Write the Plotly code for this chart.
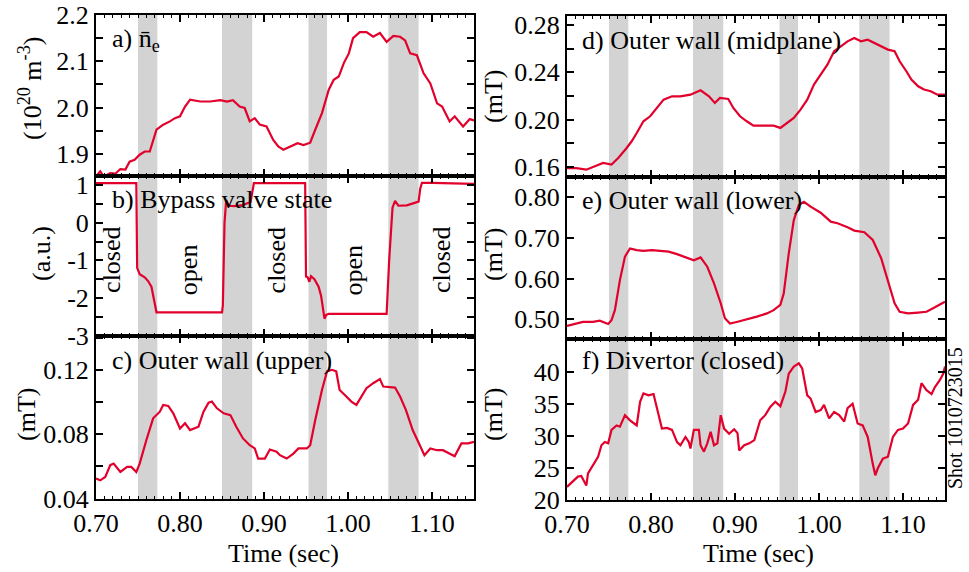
import plotly.graph_objects as go

# ---------------- data ----------------
shade_start = [0.750, 0.850, 0.953, 1.048]
shade_end = [0.773, 0.886, 0.975, 1.084]

t_a = [0.700, 0.705, 0.709, 0.717, 0.723, 0.729, 0.735, 0.740, 0.746, 0.752, 0.758, 0.764,
       0.772, 0.780, 0.788, 0.794, 0.800, 0.806, 0.812, 0.824, 0.836, 0.848, 0.856, 0.863,
       0.871, 0.877, 0.883, 0.889, 0.895, 0.903, 0.911, 0.917, 0.923, 0.931, 0.940, 0.947,
       0.955, 0.961, 0.969, 0.977, 0.983, 0.989, 0.995, 1.001, 1.006, 1.014, 1.022, 1.030,
       1.038, 1.046, 1.054, 1.062, 1.068, 1.074, 1.082, 1.090, 1.098, 1.106, 1.112, 1.121,
       1.127, 1.137, 1.145, 1.150]
ne = [1.851, 1.862, 1.851, 1.858, 1.857, 1.867, 1.866, 1.883, 1.887, 1.898, 1.905, 1.905,
      1.952, 1.963, 1.970, 1.977, 1.981, 2.002, 2.017, 2.013, 2.013, 2.016, 2.013, 2.016,
      2.002, 1.999, 1.970, 1.977, 1.963, 1.959, 1.930, 1.916, 1.909, 1.916, 1.923, 1.919,
      1.924, 1.952, 1.988, 2.038, 2.060, 2.067, 2.096, 2.117, 2.150, 2.163, 2.163, 2.153,
      2.161, 2.142, 2.155, 2.153, 2.145, 2.117, 2.113, 2.074, 2.052, 2.009, 2.002, 1.970,
      1.981, 1.959, 1.975, 1.972]

t_b = [0.700, 0.748, 0.749, 0.752, 0.758, 0.762, 0.766, 0.769, 0.772, 0.800, 0.830, 0.850,
       0.851, 0.853, 0.855, 0.858, 0.865, 0.875, 0.884, 0.886, 0.888, 0.900, 0.930, 0.949,
       0.950, 0.952, 0.954, 0.956, 0.960, 0.965, 0.968, 0.970, 0.972, 0.974, 0.977, 1.000,
       1.030, 1.046, 1.049, 1.053, 1.056, 1.060, 1.070, 1.080, 1.084, 1.086, 1.088, 1.100,
       1.130, 1.150]
valve = [1.05, 1.05, -1.20, -1.37, -1.45, -1.55, -1.70, -2.10, -2.38, -2.38, -2.38, -2.38,
         -2.20, 0.00, 0.60, 0.45, 0.44, 0.47, 0.55, 0.80, 1.05, 1.05, 1.05, 1.05,
         -1.43, -1.45, -1.57, -1.42, -1.50, -1.70, -1.95, -2.30, -2.55, -2.45, -2.42, -2.42,
         -2.42, -2.42, -1.00, 0.40, 0.58, 0.45, 0.46, 0.52, 0.56, 0.90, 1.06, 1.06,
         1.05, 1.03]

t_c = [0.700, 0.705, 0.711, 0.717, 0.721, 0.729, 0.737, 0.742, 0.748, 0.752, 0.760, 0.768,
       0.776, 0.780, 0.786, 0.792, 0.800, 0.806, 0.812, 0.822, 0.828, 0.834, 0.838, 0.844,
       0.852, 0.860, 0.867, 0.875, 0.883, 0.889, 0.893, 0.901, 0.907, 0.915, 0.919, 0.927,
       0.935, 0.941, 0.951, 0.955, 0.961, 0.969, 0.975, 0.981, 0.986, 0.990, 0.998, 1.004,
       1.010, 1.016, 1.022, 1.030, 1.038, 1.042, 1.050, 1.056, 1.062, 1.069, 1.077, 1.085,
       1.091, 1.098, 1.106, 1.113, 1.121, 1.127, 1.135, 1.143, 1.150]
b_upper = [0.0525, 0.0514, 0.0535, 0.0608, 0.0618, 0.0566, 0.0597, 0.0597, 0.0566, 0.0618,
           0.0764, 0.0899, 0.0940, 0.0982, 0.0976, 0.0930, 0.0836, 0.0868, 0.0826, 0.0847,
           0.0940, 0.0996, 0.1003, 0.0961, 0.0930, 0.0919, 0.0847, 0.0774, 0.0732, 0.0712,
           0.0649, 0.0649, 0.0705, 0.0691, 0.0670, 0.0649, 0.0680, 0.0712, 0.0712, 0.0732,
           0.0888, 0.1075, 0.1190, 0.1200, 0.1190, 0.1075, 0.1034, 0.1003, 0.0982, 0.1034,
           0.1086, 0.1117, 0.1142, 0.1096, 0.1092, 0.1090, 0.1034, 0.0950, 0.0826, 0.0732,
           0.0670, 0.0712, 0.0701, 0.0701, 0.0680, 0.0664, 0.0743, 0.0743, 0.0753]

t_d = [0.700, 0.711, 0.723, 0.733, 0.743, 0.753, 0.761, 0.771, 0.777, 0.783, 0.791, 0.799,
       0.807, 0.815, 0.825, 0.835, 0.847, 0.859, 0.869, 0.876, 0.882, 0.892, 0.898, 0.906,
       0.914, 0.922, 0.934, 0.946, 0.954, 0.962, 0.970, 0.978, 0.986, 0.994, 1.002, 1.010,
       1.018, 1.026, 1.034, 1.042, 1.050, 1.058, 1.066, 1.074, 1.082, 1.090, 1.096, 1.104,
       1.110, 1.118, 1.125, 1.133, 1.141, 1.150]
b_mid = [0.1590, 0.1590, 0.1577, 0.1606, 0.1634, 0.1620, 0.1676, 0.1760, 0.1817, 0.1887,
         0.1986, 0.2028, 0.2099, 0.2169, 0.2197, 0.2197, 0.2211, 0.2248, 0.2197, 0.2141,
         0.2183, 0.2175, 0.2099, 0.2028, 0.1986, 0.1949, 0.1949, 0.1949, 0.1930, 0.1972,
         0.2014, 0.2085, 0.2169, 0.2296, 0.2380, 0.2465, 0.2578, 0.2620, 0.2662, 0.2690,
         0.2662, 0.2676, 0.2648, 0.2620, 0.2592, 0.2578, 0.2493, 0.2409, 0.2338, 0.2282,
         0.2254, 0.2240, 0.2211, 0.2211]

t_e = [0.700, 0.711, 0.719, 0.731, 0.739, 0.749, 0.753, 0.757, 0.763, 0.769, 0.775, 0.783,
       0.791, 0.801, 0.811, 0.821, 0.831, 0.843, 0.851, 0.859, 0.867, 0.875, 0.883, 0.888,
       0.894, 0.902, 0.914, 0.926, 0.938, 0.946, 0.954, 0.958, 0.964, 0.970, 0.976, 0.982,
       0.990, 1.002, 1.014, 1.022, 1.034, 1.042, 1.054, 1.064, 1.074, 1.082, 1.090, 1.096,
       1.106, 1.118, 1.128, 1.138, 1.150]
b_lower = [0.483, 0.489, 0.493, 0.493, 0.496, 0.488, 0.4975, 0.522, 0.596, 0.654, 0.674, 0.670,
           0.668, 0.670, 0.668, 0.666, 0.660, 0.650, 0.645, 0.652, 0.629, 0.588, 0.539, 0.502,
           0.489, 0.493, 0.499, 0.506, 0.514, 0.522, 0.535, 0.563, 0.662, 0.744, 0.781, 0.789,
           0.777, 0.762, 0.740, 0.736, 0.726, 0.718, 0.714, 0.695, 0.650, 0.596, 0.539, 0.518,
           0.514, 0.516, 0.518, 0.529, 0.543]

t_f = [0.700, 0.707, 0.713, 0.717, 0.721, 0.723, 0.725, 0.731, 0.737, 0.741, 0.745, 0.749,
       0.753, 0.759, 0.763, 0.769, 0.775, 0.783, 0.787, 0.791, 0.797, 0.803, 0.807, 0.813,
       0.819, 0.825, 0.831, 0.835, 0.841, 0.845, 0.847, 0.851, 0.857, 0.859, 0.863, 0.867,
       0.871, 0.875, 0.879, 0.883, 0.887, 0.893, 0.899, 0.903, 0.905, 0.911, 0.917, 0.923,
       0.930, 0.936, 0.942, 0.948, 0.954, 0.960, 0.964, 0.970, 0.976, 0.980, 0.986, 0.990,
       0.996, 1.002, 1.006, 1.012, 1.018, 1.024, 1.030, 1.034, 1.040, 1.046, 1.052, 1.058,
       1.064, 1.067, 1.070, 1.076, 1.082, 1.088, 1.094, 1.100, 1.106, 1.112, 1.118, 1.122,
       1.128, 1.134, 1.138, 1.144, 1.148, 1.150]
b_div = [22.0, 22.8, 23.6, 23.7, 22.8, 22.2, 24.1, 25.4, 26.7, 28.5, 29.0, 28.8,
         30.9, 31.6, 31.4, 33.2, 32.4, 31.6, 35.3, 36.6, 36.3, 36.5, 34.5, 31.1,
         31.2, 30.9, 29.0, 28.5, 29.8, 29.0, 28.0, 30.9, 30.9, 28.5, 27.5, 28.8,
         30.6, 28.5, 28.8, 33.2, 31.1, 30.3, 31.0, 30.4, 27.7, 28.5, 28.8, 29.3,
         32.4, 33.2, 34.5, 35.3, 34.6, 36.9, 39.7, 40.8, 41.3, 40.5, 36.3, 35.8,
         33.7, 34.0, 34.8, 32.7, 33.7, 33.2, 32.2, 34.3, 35.0, 31.9, 31.6, 29.8,
         25.6, 23.8, 24.9, 26.4, 26.7, 29.8, 30.9, 31.1, 31.9, 34.8, 35.6, 38.2,
         37.1, 36.5, 37.6, 38.7, 39.7, 40.8]

panel_labels = ["a) n\u0304<sub>e</sub>", "b) Bypass valve state", "c) Outer wall (upper)",
                "d) Outer wall (midplane)", "e) Outer wall (lower)", "f) Divertor (closed)"]
y_titles = ["(10<sup>20</sup> m<sup>-3</sup>)", "(a.u.)", "(mT)", "(mT)", "(mT)", "(mT)"]
valve_states = ["closed", "open", "closed", "open", "closed"]
valve_state_t = [0.719, 0.810, 0.916, 1.007, 1.112]
valve_state_y = [-0.99, -1.25, -0.99, -1.25, -0.99]
x_ticks = [0.70, 0.80, 0.90, 1.00, 1.10]
x_ticktext = ["0.70", "0.80", "0.90", "1.00", "1.10"]
y_tickvals = [[1.9, 2.0, 2.1, 2.2], [-3, -2, -1, 0, 1], [0.04, 0.08, 0.12],
              [0.16, 0.20, 0.24, 0.28], [0.50, 0.60, 0.70, 0.80], [20, 25, 30, 35, 40]]
y_ticktext = [["1.9", "2.0", "2.1", "2.2"], ["-3", "-2", "-1", "0", "1"],
              ["0.04", "0.08", "0.12"], ["0.16", "0.20", "0.24", "0.28"],
              ["0.50", "0.60", "0.70", "0.80"], ["20", "25", "30", "35", "40"]]

# ---------------- figure ----------------
W, H = 969, 572
RED = "#e2002c"
FONT = "Liberation Serif"
fig = go.Figure()


def sfx(n):
    return "" if n == 1 else str(n)


series = [(t_a, ne), (t_b, valve), (t_c, b_upper), (t_d, b_mid), (t_e, b_lower), (t_f, b_div)]
for i, (tx, vy) in enumerate(series):
    n = i + 1
    fig.add_trace(go.Scatter(x=tx, y=vy, mode="lines", line=dict(color=RED, width=2.2),
                             xaxis=f"x{sfx(n)}", yaxis=f"y{sfx(n)}", showlegend=False,
                             hoverinfo="skip"))


def px_x(a, b):
    return [a / W, b / W]


def px_y(top, bottom):
    return [1 - bottom / H, 1 - top / H]


x_dom = [px_x(96, 474)] * 3 + [px_x(567, 945)] * 3
y_dom = [px_y(15, 176), px_y(176, 336), px_y(336, 499),
         px_y(16, 177), px_y(177, 339), px_y(339, 500)]

y_ranges = [[1.852, 2.2], [-3.01, 1.24], [0.0398, 0.141],
            [0.1515, 0.2876], [0.451, 0.85], [19.95, 45.1]]
y_minor = [0.05, 0.5, 0.02, 0.02, None, None]

axis_common = dict(showline=True, linecolor="black", linewidth=2, mirror="allticks",
                   ticks="inside", tickcolor="black", tickwidth=1.5, showgrid=False,
                   zeroline=False, automargin=False,
                   tickfont=dict(family=FONT, size=26, color="black"))

layout_axes = {}
for i in range(6):
    n = i + 1
    xa = dict(axis_common)
    xa.update(domain=x_dom[i], range=[0.70, 1.15], anchor=f"y{sfx(n)}",
              tickvals=x_ticks, ticktext=x_ticktext, ticklen=7,
              showticklabels=(i in (2, 5)),
              minor=dict(dtick=0.01, ticklen=3, tickwidth=1, tickcolor="black",
                         ticks="inside", tick0=0.7))
    ya = dict(axis_common)
    ya.update(domain=y_dom[i], range=y_ranges[i], anchor=f"x{sfx(n)}", ticklen=7,
              tickvals=y_tickvals[i], ticktext=y_ticktext[i])
    if y_minor[i] is not None:
        ya.update(minor=dict(dtick=y_minor[i], ticklen=7, tickwidth=1.5,
                             tickcolor="black", ticks="inside"))
    layout_axes[f"xaxis{sfx(n)}"] = xa
    layout_axes[f"yaxis{sfx(n)}"] = ya
fig.update_layout(**layout_axes)

# shaded intervals
shapes = []
for i in range(6):
    n = i + 1
    for s, e in zip(shade_start, shade_end):
        shapes.append(dict(type="rect", xref=f"x{sfx(n)}", yref=f"y{sfx(n)} domain",
                           x0=s, x1=e, y0=0, y1=1, fillcolor="#d3d3d3",
                           line=dict(width=0), layer="below"))
fig.update_layout(shapes=shapes)

ann = []
label_pos = [(0.037, 25), (0.037, 23), (0.037, 24), (0.034, 24), (0.034, 24), (0.034, 21)]
panel_h = [161, 160, 163, 161, 162, 161]
for i in range(6):
    n = i + 1
    xd, off = label_pos[i]
    ann.append(dict(text=panel_labels[i], xref=f"x{sfx(n)} domain", yref=f"y{sfx(n)} domain",
                    x=xd, y=1 - off / panel_h[i], xanchor="left", yanchor="middle",
                    showarrow=False, font=dict(family=FONT, size=26, color="black")))

yt_pos = [(30, 89), (41, 254), (26, 415), (493, 97), (493, 255), (493, 415)]
for i, (px, py) in enumerate(yt_pos):
    ann.append(dict(text=y_titles[i], xref="paper", yref="paper", x=px / W, y=1 - py / H,
                    xanchor="center", yanchor="middle", textangle=-90, showarrow=False,
                    font=dict(family=FONT, size=26, color="black")))

for cx in (283, 758):
    ann.append(dict(text="Time (sec)", xref="paper", yref="paper", x=cx / W, y=1 - 553 / H,
                    xanchor="center", yanchor="middle", showarrow=False,
                    font=dict(family=FONT, size=26, color="black")))

for txt, tx, ty in zip(valve_states, valve_state_t, valve_state_y):
    ann.append(dict(text=txt, xref="x2", yref="y2", x=tx, y=ty, textangle=-90,
                    xanchor="center", yanchor="middle", showarrow=False,
                    font=dict(family=FONT, size=26, color="black")))

ann.append(dict(text="Shot 1010723015", xref="paper", yref="paper", x=955 / W, y=1 - 418 / H,
                textangle=-90, xanchor="center", yanchor="middle", showarrow=False,
                font=dict(family=FONT, size=20, color="black")))

fig.update_layout(template="none", annotations=ann, width=W, height=H,
                  margin=dict(l=0, r=0, t=0, b=0),
                  paper_bgcolor="white", plot_bgcolor="white")

fig.write_html("out.html", config={"displayModeBar": False},
               post_script="document.body.style.margin='0';document.body.style.padding='0';")
